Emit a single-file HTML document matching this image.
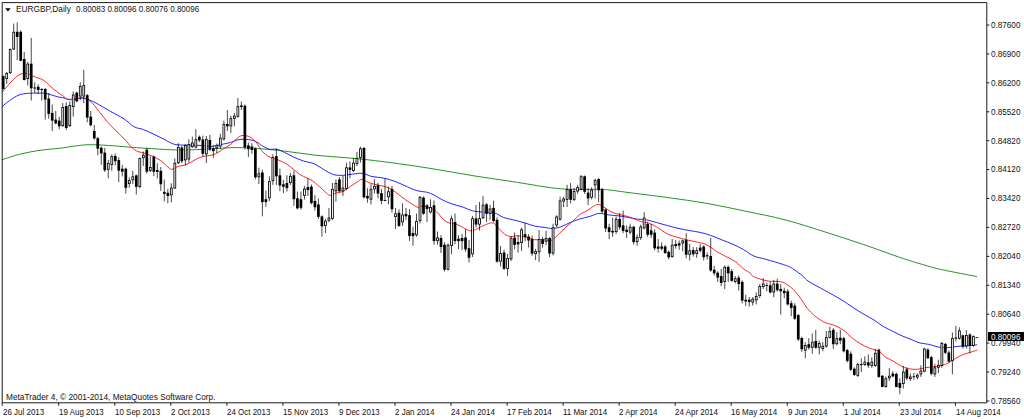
<!DOCTYPE html><html><head><meta charset="utf-8"><title>EURGBP,Daily</title><style>
html,body{margin:0;padding:0;background:#fff;}
body{width:1024px;height:419px;position:relative;overflow:hidden;font-family:"Liberation Sans",sans-serif;color:#000;}
.t{position:absolute;white-space:nowrap;font-size:9.4px;line-height:10px;transform-origin:0 50%;transform:scaleX(0.852);color:#111;}
.p{left:991.2px;transform:scaleX(0.868);}
.d{top:406.6px;transform:scaleX(0.85);}
#cur{position:absolute;left:988px;top:332.2px;width:36px;height:8.6px;background:#000;}
#curt{color:#fff;top:331.6px;left:991.2px;transform:scaleX(0.868);}

</style></head><body>
<svg width="1024" height="419" viewBox="0 0 1024 419" style="position:absolute;left:0;top:0">
<rect x="0" y="0" width="1024" height="419" fill="#fff"/>
<g fill="none" stroke-linejoin="round" stroke-linecap="round">
<path d="M2.3 159.6 C5.2 158.7 13.4 155.8 19.5 154.3 C25.6 152.8 32.5 151.4 39.0 150.4 C45.5 149.4 52.1 149.2 58.6 148.4 C65.1 147.6 72.9 146.2 78.1 145.6 C83.3 145.0 84.6 144.7 89.8 144.7 C95.0 144.7 101.6 145.0 109.4 145.5 C117.2 146.0 128.9 147.1 136.7 147.7 C144.5 148.3 149.8 148.5 156.3 148.9 C162.8 149.3 168.5 149.8 175.8 149.9 C183.1 150.0 189.5 149.9 200.0 149.5 C210.5 149.1 226.0 147.5 239.0 147.6 C252.0 147.7 265.0 149.0 278.0 150.3 C291.0 151.6 304.0 154.0 317.0 155.4 C330.0 156.8 343.0 157.2 356.0 158.5 C369.0 159.8 382.0 161.4 395.0 163.2 C408.0 164.9 421.0 166.9 434.0 169.0 C447.0 171.1 459.9 173.6 473.0 175.7 C486.1 177.8 499.4 179.6 512.5 181.6 C525.6 183.6 541.2 186.5 551.6 187.8 C562.0 189.1 566.9 189.2 575.0 189.4 C583.1 189.7 593.8 189.2 600.0 189.3 C606.2 189.5 607.2 189.8 612.0 190.3 C616.8 190.9 619.7 191.4 629.0 192.6 C638.3 193.8 655.0 195.8 668.0 197.6 C681.0 199.4 694.0 201.1 707.0 203.4 C720.0 205.7 733.0 208.6 746.0 211.3 C759.0 214.0 772.0 216.4 785.0 219.8 C798.0 223.2 810.9 227.5 824.0 231.6 C837.1 235.7 850.3 240.1 863.4 244.5 C876.5 248.9 892.2 254.9 902.5 258.3 C912.8 261.8 918.5 263.3 925.0 265.2 C931.5 267.1 933.0 267.7 941.6 269.6 C950.2 271.5 970.9 275.4 976.7 276.5" stroke="#008000" stroke-width="0.9" opacity="0.95"/>
<path d="M2.3 106.4 C3.5 105.4 6.7 102.5 9.5 100.6 C12.3 98.7 15.8 96.2 19.0 95.0 C22.2 93.8 25.4 93.6 28.6 93.3 C31.8 93.0 35.1 93.2 38.0 93.2 C40.9 93.2 42.6 92.8 45.8 93.4 C49.0 94.0 54.3 95.9 57.3 96.7 C60.3 97.5 62.0 97.5 64.0 98.0 C66.0 98.5 67.1 99.3 69.6 99.4 C72.1 99.5 76.2 98.5 79.1 98.4 C81.9 98.3 83.5 98.0 86.7 99.0 C89.9 100.0 94.4 102.2 98.2 104.2 C102.0 106.2 105.4 108.5 109.7 110.9 C114.0 113.4 120.0 116.3 124.0 118.9 C128.1 121.5 130.8 124.9 134.0 126.7 C137.2 128.5 140.2 128.3 143.5 129.6 C146.8 130.9 150.6 132.7 154.0 134.3 C157.4 135.9 160.8 137.7 164.1 139.3 C167.4 140.9 170.5 143.1 173.7 144.1 C176.9 145.1 178.8 144.9 183.2 145.1 C187.6 145.3 195.3 145.2 200.0 145.4 C204.7 145.6 208.0 146.6 211.5 146.4 C215.0 146.2 217.8 145.2 221.0 144.5 C224.2 143.8 227.7 143.3 230.6 142.5 C233.5 141.7 235.6 140.2 238.2 139.7 C240.8 139.2 243.3 139.2 245.9 139.3 C248.5 139.5 251.3 139.9 253.5 140.6 C255.7 141.3 257.9 142.7 259.2 143.5 C260.5 144.3 259.9 144.4 261.5 145.3 C263.1 146.2 266.6 148.5 269.1 149.2 C271.6 149.8 274.1 148.7 276.7 149.2 C279.2 149.7 281.5 151.1 284.4 152.4 C287.3 153.7 290.7 155.8 293.9 157.2 C297.1 158.6 300.1 159.9 303.5 161.0 C306.9 162.1 311.1 162.4 314.5 163.9 C317.9 165.4 320.9 168.0 324.1 169.8 C327.3 171.6 330.4 173.7 333.6 174.6 C336.8 175.5 340.0 175.4 343.2 175.3 C346.4 175.2 349.5 174.4 352.7 174.1 C355.9 173.8 359.1 173.0 362.3 173.4 C365.5 173.8 368.4 175.7 372.0 176.5 C375.6 177.3 379.9 177.2 383.9 178.1 C387.9 179.0 391.8 180.2 395.8 181.7 C399.8 183.2 404.1 185.5 407.7 187.0 C411.3 188.5 414.1 189.9 417.3 190.8 C420.5 191.7 424.1 191.5 426.9 192.2 C429.7 192.9 431.7 193.8 434.1 195.0 C436.5 196.2 438.5 197.9 441.3 199.3 C444.1 200.7 447.2 202.3 450.8 203.6 C454.4 204.9 459.1 205.8 462.7 207.0 C466.3 208.2 469.1 210.0 472.3 210.8 C475.5 211.6 478.4 211.7 482.0 212.0 C485.6 212.3 490.3 211.8 493.9 212.7 C497.5 213.6 500.2 216.2 503.4 217.4 C506.6 218.6 509.4 218.9 513.0 219.8 C516.6 220.7 521.3 221.9 524.9 222.9 C528.5 223.9 531.3 225.4 534.5 226.1 C537.7 226.8 541.1 226.9 544.1 227.3 C547.1 227.7 549.6 228.6 552.4 228.5 C555.2 228.4 557.8 227.8 560.8 226.8 C563.8 225.8 567.1 223.8 570.3 222.5 C573.5 221.2 576.7 219.9 579.9 218.9 C583.1 217.9 586.3 217.4 589.5 216.5 C592.7 215.6 595.9 213.7 599.1 213.4 C602.3 213.1 605.4 214.5 608.6 214.9 C611.8 215.3 615.0 215.4 618.2 215.8 C621.4 216.2 624.5 216.7 627.7 217.3 C630.9 217.9 634.3 218.8 637.3 219.2 C640.3 219.6 642.5 219.1 645.7 219.7 C648.9 220.2 652.9 221.5 656.5 222.5 C660.1 223.5 663.6 224.5 667.2 225.5 C670.8 226.5 674.4 227.5 678.0 228.3 C681.6 229.1 684.9 229.7 688.7 230.4 C692.5 231.1 696.9 231.6 700.7 232.5 C704.5 233.4 707.9 234.4 711.5 235.7 C715.1 236.9 718.6 238.6 722.2 240.0 C725.8 241.4 729.4 242.7 733.0 244.3 C736.6 245.9 740.2 247.7 743.7 249.7 C747.2 251.7 750.3 254.5 754.0 256.1 C757.7 257.7 760.6 257.8 765.8 259.3 C771.0 260.8 780.8 263.6 785.3 265.2 C789.8 266.8 789.9 266.9 792.7 268.6 C795.5 270.4 799.6 273.5 802.3 275.7 C805.0 277.9 805.3 279.3 809.0 281.7 C812.7 284.1 818.9 287.1 824.4 290.2 C829.9 293.2 837.1 297.2 841.8 300.0 C846.5 302.8 848.8 304.8 852.5 307.2 C856.2 309.6 860.4 312.2 864.0 314.3 C867.6 316.4 870.7 317.9 874.0 320.0 C877.3 322.1 880.5 324.8 883.7 326.7 C886.9 328.6 890.0 329.9 893.2 331.5 C896.4 333.1 899.6 334.8 902.8 336.2 C906.0 337.6 909.5 338.8 912.3 339.9 C915.1 341.0 916.7 342.1 919.5 342.9 C922.3 343.6 925.9 343.7 929.1 344.4 C932.3 345.1 935.4 346.6 938.6 347.1 C941.8 347.7 945.0 347.8 948.2 347.7 C951.4 347.6 954.5 346.6 957.7 346.3 C960.9 346.0 964.1 346.1 967.3 345.8 C970.5 345.6 975.2 345.0 976.8 344.8" stroke="#0000ff" stroke-width="0.9" opacity="0.95"/>
<path d="M2.3 92.0 C3.1 91.1 5.5 88.3 7.0 86.6 C8.5 84.8 9.5 83.5 11.5 81.5 C13.5 79.5 16.6 76.1 19.1 74.8 C21.6 73.5 24.1 73.1 26.7 73.4 C29.2 73.7 31.5 75.5 34.4 76.7 C37.3 77.9 40.7 78.5 43.9 80.5 C47.1 82.5 50.1 86.3 53.5 89.0 C56.9 91.7 61.6 95.0 64.0 96.7 C66.3 98.4 65.7 99.0 67.6 99.4 C69.5 99.9 73.1 99.7 75.3 99.4 C77.5 99.1 79.1 97.6 81.0 97.5 C82.9 97.4 84.8 98.0 86.7 99.0 C88.6 100.0 90.3 100.9 92.5 103.2 C94.7 105.5 97.5 109.6 100.1 112.8 C102.6 116.0 105.3 119.5 107.8 122.3 C110.2 125.1 112.0 126.8 114.8 129.6 C117.6 132.4 121.5 136.1 124.4 139.1 C127.3 142.1 129.8 145.6 132.0 147.7 C134.2 149.8 135.6 150.6 137.8 151.5 C140.0 152.4 142.9 152.6 145.4 153.4 C147.9 154.2 150.1 155.3 152.6 156.5 C155.1 157.7 157.8 158.6 160.3 160.3 C162.9 162.1 166.0 165.5 167.9 167.0 C169.8 168.5 170.1 169.4 171.7 169.3 C173.3 169.2 174.9 167.4 177.5 166.6 C180.1 165.8 183.8 165.5 187.0 164.2 C190.2 162.9 193.7 160.3 196.6 159.0 C199.5 157.7 202.4 156.7 204.2 156.2 C206.0 155.7 205.8 156.3 207.6 155.9 C209.4 155.5 212.8 155.1 215.3 154.0 C217.9 152.9 220.4 150.8 222.9 149.2 C225.4 147.6 228.1 146.5 230.6 144.5 C233.1 142.5 236.1 138.9 238.2 137.4 C240.3 135.9 241.1 135.6 243.0 135.5 C244.9 135.4 247.6 135.8 249.7 136.8 C251.8 137.8 253.7 139.8 255.4 141.6 C257.1 143.4 258.8 146.2 259.8 147.7 C260.8 149.2 260.3 149.2 261.5 150.5 C262.7 151.8 265.3 154.4 267.2 155.7 C269.1 157.0 271.0 157.5 272.9 158.2 C274.8 158.9 276.5 159.1 278.7 160.1 C280.9 161.1 283.8 162.3 286.3 163.9 C288.8 165.5 291.7 167.8 293.9 169.6 C296.1 171.3 297.5 173.0 299.7 174.4 C301.9 175.8 305.2 177.2 307.3 178.2 C309.4 179.2 310.2 179.2 312.2 180.6 C314.2 182.0 316.9 184.4 319.3 186.5 C321.7 188.6 324.7 191.5 326.5 193.0 C328.3 194.5 328.5 195.4 330.1 195.4 C331.7 195.4 333.8 193.7 336.0 193.0 C338.2 192.3 340.8 192.4 343.2 191.3 C345.6 190.2 347.9 188.1 350.3 186.5 C352.7 184.9 355.5 183.0 357.5 181.8 C359.5 180.6 360.3 179.2 362.3 179.4 C364.3 179.6 366.7 181.9 369.5 182.9 C372.3 183.9 375.9 184.5 379.1 185.3 C382.3 186.1 385.8 186.5 388.6 187.7 C391.4 188.9 393.0 190.4 395.8 192.4 C398.6 194.4 402.5 197.6 405.3 199.6 C408.1 201.6 410.3 203.1 412.5 204.4 C414.7 205.7 416.9 207.2 418.5 207.5 C420.1 207.8 420.4 206.0 422.2 206.0 C424.0 206.0 426.9 206.8 429.3 207.7 C431.7 208.6 434.1 209.7 436.5 211.7 C438.9 213.7 441.4 217.7 443.6 219.6 C445.8 221.5 447.4 222.4 449.6 223.2 C451.8 224.0 454.4 223.6 456.8 224.4 C459.2 225.2 461.7 226.9 463.9 228.0 C466.1 229.1 468.1 230.5 469.9 230.8 C471.7 231.1 473.5 230.2 474.7 229.9 C475.9 229.6 475.6 229.5 477.2 228.7 C478.8 227.9 481.7 226.3 484.3 225.3 C486.9 224.3 490.3 222.4 492.7 222.9 C495.1 223.4 496.6 226.3 498.6 228.2 C500.6 230.1 502.6 232.8 504.6 234.2 C506.6 235.6 508.4 236.2 510.6 236.5 C512.8 236.8 514.9 235.7 517.7 235.8 C520.5 235.9 524.5 236.7 527.3 237.3 C530.1 238.0 531.7 239.3 534.5 239.7 C537.3 240.1 541.3 239.6 544.1 239.7 C546.9 239.8 548.9 241.3 551.3 240.4 C553.7 239.5 556.0 236.6 558.4 234.4 C560.8 232.2 563.2 229.5 565.6 227.3 C568.0 225.1 570.3 223.4 572.7 221.3 C575.1 219.2 577.5 216.3 579.9 214.5 C582.3 212.7 584.8 212.0 587.2 210.6 C589.6 209.2 592.3 206.8 594.3 205.8 C596.3 204.8 597.5 204.4 599.1 204.6 C600.7 204.8 601.9 205.8 603.9 207.0 C605.9 208.2 608.6 210.6 611.0 211.8 C613.4 213.0 615.4 213.4 618.2 214.2 C621.0 215.0 624.5 215.5 627.7 216.5 C630.9 217.5 635.0 219.2 637.3 220.1 C639.6 221.0 639.6 221.3 641.4 221.8 C643.2 222.3 645.4 222.1 647.9 222.9 C650.4 223.7 653.3 225.0 656.5 226.8 C659.7 228.6 663.6 231.9 667.2 233.7 C670.8 235.5 674.4 236.4 678.0 237.5 C681.6 238.6 684.9 239.4 688.7 240.3 C692.5 241.2 697.8 242.1 700.7 242.8 C703.6 243.5 704.2 243.8 706.0 244.6 C707.8 245.4 710.0 246.8 711.5 247.8 C713.0 248.8 713.9 249.8 715.0 250.6 C716.1 251.3 716.0 251.3 717.9 252.3 C719.8 253.3 723.6 255.3 726.5 256.8 C729.4 258.3 732.2 259.5 735.1 261.5 C738.0 263.5 741.2 267.1 743.7 269.0 C746.2 270.9 748.7 271.9 750.1 273.0 C751.5 274.1 750.7 274.7 752.2 275.7 C753.7 276.7 756.5 277.9 759.3 278.8 C762.1 279.7 765.3 280.7 768.9 281.2 C772.5 281.7 777.6 281.0 780.8 281.7 C784.0 282.4 785.6 283.7 788.0 285.3 C790.4 286.9 792.7 288.7 795.1 291.3 C797.5 293.9 800.3 298.0 802.3 300.8 C804.3 303.6 805.2 305.9 807.2 308.4 C809.2 310.8 811.5 313.2 814.3 315.5 C817.1 317.8 820.7 320.4 823.9 322.0 C827.1 323.6 830.2 323.8 833.4 325.1 C836.6 326.4 839.8 327.6 843.0 329.8 C846.2 332.0 849.5 335.9 852.5 338.2 C855.5 340.5 858.1 342.3 860.7 343.9 C863.4 345.5 865.9 346.6 868.4 347.7 C870.9 348.8 873.9 349.4 876.0 350.2 C878.1 351.0 879.2 351.3 880.8 352.5 C882.4 353.7 883.5 355.9 885.6 357.3 C887.7 358.7 890.7 359.7 893.2 361.1 C895.8 362.5 898.4 364.6 900.9 365.9 C903.4 367.2 905.7 368.1 908.5 368.7 C911.3 369.3 914.8 369.5 917.6 369.3 C920.4 369.1 922.8 368.1 925.3 367.7 C927.8 367.3 930.4 367.1 932.9 366.8 C935.4 366.5 938.0 366.4 940.5 365.8 C943.0 365.2 945.7 364.3 948.2 363.0 C950.8 361.7 953.2 359.6 955.8 358.2 C958.3 356.8 961.0 355.4 963.5 354.4 C966.0 353.4 968.9 352.8 971.1 352.1 C973.3 351.4 975.8 350.5 976.8 350.2" stroke="#ff0000" stroke-width="0.9" opacity="0.95"/>
</g>
<path d="M3.20 75.5V89.5M6.70 72.0V84.0M10.21 48.4V74.0M13.71 23.6V50.0M17.21 22.3V60.0M20.71 30.3V61.2M24.21 52.0V80.5M27.72 62.0V85.6M31.22 37.9V100.5M34.72 82.4V92.9M38.23 84.3V93.9M41.73 88.1V100.5M45.23 88.0V119.6M48.73 92.9V118.7M52.23 104.4V131.0M55.74 111.0V124.4M59.24 116.8V129.2M62.74 103.0V127.0M66.25 102.3V130.0M69.75 101.3V127.0M73.25 91.4V116.6M76.75 91.7V102.3M80.25 82.2V100.3M83.76 69.8V103.2M87.26 94.0V122.3M90.76 110.9V126.5M94.27 125.0V139.5M97.77 137.0V155.3M101.27 146.5V164.9M104.77 148.0V172.0M108.28 160.1V178.3M111.78 154.4V170.6M115.28 153.4V165.3M118.78 157.3V182.1M122.28 164.9V176.4M125.79 167.7V193.6M129.29 177.3V187.8M132.79 170.6V184.0M136.29 174.5V194.5M139.80 157.5V188.4M143.30 151.5V165.9M146.80 147.7V173.5M150.30 156.4V172.0M153.81 155.5V176.2M157.31 163.2V178.5M160.81 167.0V190.9M164.31 179.5V201.4M167.82 189.0V203.3M171.32 183.3V202.4M174.82 158.4V189.0M178.32 143.2V164.2M181.83 146.0V163.2M185.33 144.1V165.5M188.83 139.3V162.3M192.33 136.5V148.0M195.84 129.2V148.3M199.34 135.5V142.2M202.84 135.7V156.5M206.34 136.0V163.0M209.85 134.9V151.1M213.35 145.4V157.8M216.85 143.5V153.0M220.35 133.9V149.2M223.86 120.6V140.6M227.36 110.0V131.0M230.86 115.8V133.0M234.36 112.9V126.3M237.87 98.0V117.7M241.37 101.5V110.0M244.87 104.5V149.6M248.37 142.5V156.9M251.88 143.2V153.7M255.38 147.5V179.2M258.88 167.7V183.9M262.38 169.6V216.4M265.89 190.6V206.9M269.39 176.3V201.1M272.89 154.3V184.9M276.39 148.6V184.9M279.90 168.7V191.2M283.40 180.1V193.1M286.90 175.3V191.6M290.40 172.9V184.9M293.91 170.6V205.9M297.41 191.6V209.2M300.91 191.6V209.7M304.41 185.9V199.6M307.92 178.2V196.0M311.42 184.5V204.4M314.92 194.9V210.4M318.43 198.5V218.8M321.93 215.4V236.7M325.43 218.8V233.0M328.93 208.0V222.3M332.44 183.0V220.0M335.94 179.4V201.6M339.44 177.0V192.5M342.94 175.8V196.1M346.44 162.7V190.1M349.95 161.5V178.2M353.45 157.9V172.2M356.95 151.9V166.3M360.45 146.7V162.7M363.96 147.0V198.5M367.46 188.3V202.6M370.96 184.1V204.4M374.46 179.3V193.6M377.97 182.9V198.4M381.47 188.9V204.4M384.97 178.7V201.2M388.47 186.5V204.4M391.98 186.0V212.7M395.48 208.0V229.0M398.98 209.2V227.1M402.48 203.2V225.9M405.99 208.0V219.9M409.49 209.2V240.9M412.99 226.6V245.7M416.50 213.7V236.6M420.00 196.0V223.4M423.50 196.5V214.8M427.00 204.1V222.0M430.50 199.3V213.6M434.01 200.5V244.7M437.51 231.5V244.7M441.01 235.1V253.0M444.51 242.3V271.4M448.02 243.5V270.5M451.52 215.5V254.2M455.02 213.6V244.2M458.52 235.1V249.0M462.03 233.9V249.9M465.53 229.2V251.8M469.03 239.9V262.6M472.53 215.9V257.0M476.04 205.0V227.5M479.54 201.9V230.6M483.04 196.0V219.0M486.54 203.1V222.2M490.05 204.8V219.8M493.55 200.7V222.2M497.05 217.4V262.8M500.56 246.1V266.4M504.06 249.7V270.0M507.56 254.0V275.9M511.06 236.5V261.1M514.57 232.5V249.2M518.07 235.3V252.5M521.57 227.7V250.9M525.07 222.9V241.3M528.58 234.1V247.5M532.08 235.6V255.9M535.58 248.8V260.2M539.08 230.1V261.9M542.59 236.8V247.6M546.09 230.9V245.2M549.59 236.8V257.1M553.09 223.7V255.4M556.60 215.3V227.3M560.10 196.7V220.6M563.60 196.7V207.0M567.10 184.8V207.0M570.61 183.1V203.4M574.11 187.9V201.0M577.61 184.8V193.9M581.11 175.0V190.5M584.62 175.5V193.9M588.12 188.2V205.2M591.62 187.3V199.4M595.12 178.4V198.6M598.62 178.0V202.2M602.13 187.9V213.2M605.63 208.4V232.0M609.13 223.7V239.2M612.63 217.7V236.8M616.14 216.5V234.0M619.64 213.0V229.7M623.14 210.6V233.2M626.64 225.4V238.0M630.15 223.7V234.4M633.65 225.8V244.5M637.15 234.5V245.7M640.66 224.8V240.0M644.16 212.2V229.4M647.66 221.8V236.9M651.16 224.0V238.0M654.67 229.4V250.4M658.17 239.0V252.6M661.67 242.3V250.4M665.17 244.8V254.1M668.68 250.4V259.4M672.18 239.0V257.7M675.68 240.1V248.7M679.18 240.5V249.8M682.69 239.7V251.3M686.19 233.2V258.4M689.69 244.0V260.5M693.19 247.0V256.6M696.70 247.2V257.8M700.20 243.9V252.5M703.70 245.4V260.4M707.20 252.4V259.6M710.71 237.9V271.8M714.21 265.8V275.5M717.71 271.2V281.9M721.21 269.0V286.2M724.72 265.4V289.0M728.22 265.4V281.9M731.72 269.0V281.9M735.22 276.1V283.4M738.73 275.5V290.5M742.23 280.4V303.4M745.73 294.8V306.0M749.23 297.0V306.7M752.74 297.0V305.5M756.24 292.4V304.4M759.74 284.1V297.9M763.24 278.1V288.9M766.75 282.9V291.3M770.25 281.7V293.6M773.75 279.8V297.2M777.25 278.8V291.7M780.75 284.1V314.6M784.26 287.7V298.4M787.76 288.9V305.6M791.26 300.8V316.3M794.76 303.2V319.9M798.27 313.9V340.9M801.77 336.6V352.0M805.27 342.2V358.3M808.77 338.2V349.6M812.28 333.4V353.7M815.78 329.8V348.9M819.28 340.6V354.4M822.79 341.8V351.3M826.29 331.0V347.7M829.79 326.7V338.5M833.29 328.2V348.9M836.80 332.2V345.3M840.30 329.8V344.2M843.80 337.0V352.5M847.30 349.0V362.5M850.81 351.3V371.1M854.31 367.3V375.9M857.81 362.8V376.9M861.31 358.3V372.0M864.82 356.3V365.9M868.32 354.4V367.8M871.82 357.3V367.8M875.32 348.7V366.8M878.83 348.7V377.7M882.33 375.0V387.3M885.83 376.4V387.8M889.33 368.1V381.1M892.84 371.2V377.3M896.34 372.5V387.3M899.84 378.3V394.1M903.34 365.9V388.4M906.85 367.4V380.2M910.35 373.5V381.0M913.85 373.0V379.6M917.35 373.3V379.2M920.86 365.4V376.9M924.36 347.7V372.5M927.86 348.3V359.1M931.36 355.9V375.4M934.87 363.9V376.9M938.37 359.7V373.1M941.87 342.0V367.7M945.37 342.9V354.0M948.88 350.5V362.4M952.38 332.4V374.4M955.88 325.9V341.5M959.38 327.3V339.5M962.88 334.6V348.6M966.39 330.2V348.6M969.89 333.5V353.3M973.39 335.3V346.7" stroke="#000" stroke-width="0.9" fill="none" opacity="0.8"/>
<rect x="1.85" y="76.0" width="2.70" height="13.0" fill="#000"/>
<rect x="15.86" y="31.8" width="2.70" height="5.2" fill="#000"/>
<rect x="19.36" y="31.8" width="2.70" height="29.0" fill="#000"/>
<rect x="22.86" y="59.0" width="2.70" height="21.0" fill="#000"/>
<rect x="29.87" y="63.7" width="2.70" height="24.6" fill="#000"/>
<rect x="33.37" y="87.5" width="2.70" height="1.0" fill="#000"/>
<rect x="36.88" y="86.8" width="2.70" height="3.2" fill="#000"/>
<rect x="40.38" y="89.0" width="2.70" height="1.0" fill="#000"/>
<rect x="43.88" y="89.0" width="2.70" height="10.6" fill="#000"/>
<rect x="47.38" y="98.6" width="2.70" height="15.3" fill="#000"/>
<rect x="50.88" y="112.9" width="2.70" height="7.7" fill="#000"/>
<rect x="54.39" y="119.6" width="2.70" height="3.8" fill="#000"/>
<rect x="57.89" y="120.6" width="2.70" height="5.7" fill="#000"/>
<rect x="64.90" y="106.0" width="2.70" height="22.0" fill="#000"/>
<rect x="75.40" y="92.7" width="2.70" height="8.6" fill="#000"/>
<rect x="85.91" y="95.2" width="2.70" height="22.3" fill="#000"/>
<rect x="89.41" y="116.6" width="2.70" height="8.6" fill="#000"/>
<rect x="92.92" y="131.0" width="2.70" height="7.4" fill="#000"/>
<rect x="96.42" y="138.2" width="2.70" height="10.5" fill="#000"/>
<rect x="99.92" y="147.7" width="2.70" height="5.7" fill="#000"/>
<rect x="103.42" y="152.6" width="2.70" height="17.6" fill="#000"/>
<rect x="113.93" y="156.0" width="2.70" height="5.2" fill="#000"/>
<rect x="117.43" y="160.1" width="2.70" height="10.5" fill="#000"/>
<rect x="120.94" y="168.7" width="2.70" height="2.9" fill="#000"/>
<rect x="124.44" y="168.7" width="2.70" height="19.1" fill="#000"/>
<rect x="134.94" y="175.4" width="2.70" height="11.5" fill="#000"/>
<rect x="145.45" y="149.7" width="2.70" height="22.0" fill="#000"/>
<rect x="152.46" y="156.5" width="2.70" height="15.3" fill="#000"/>
<rect x="155.96" y="170.0" width="2.70" height="1.8" fill="#000"/>
<rect x="159.46" y="170.9" width="2.70" height="13.3" fill="#000"/>
<rect x="162.97" y="191.9" width="2.70" height="1.9" fill="#000"/>
<rect x="166.47" y="192.8" width="2.70" height="3.2" fill="#000"/>
<rect x="180.48" y="147.5" width="2.70" height="13.8" fill="#000"/>
<rect x="197.99" y="136.8" width="2.70" height="3.5" fill="#000"/>
<rect x="201.49" y="139.5" width="2.70" height="14.3" fill="#000"/>
<rect x="208.50" y="140.0" width="2.70" height="9.6" fill="#000"/>
<rect x="212.00" y="148.3" width="2.70" height="2.8" fill="#000"/>
<rect x="226.01" y="124.0" width="2.70" height="2.3" fill="#000"/>
<rect x="240.02" y="105.5" width="2.70" height="1.5" fill="#000"/>
<rect x="243.52" y="105.7" width="2.70" height="41.6" fill="#000"/>
<rect x="247.02" y="145.4" width="2.70" height="3.8" fill="#000"/>
<rect x="250.53" y="146.5" width="2.70" height="3.5" fill="#000"/>
<rect x="254.03" y="148.5" width="2.70" height="28.8" fill="#000"/>
<rect x="261.03" y="172.5" width="2.70" height="29.6" fill="#000"/>
<rect x="264.54" y="199.2" width="2.70" height="2.9" fill="#000"/>
<rect x="275.04" y="156.2" width="2.70" height="20.1" fill="#000"/>
<rect x="278.55" y="175.3" width="2.70" height="10.2" fill="#000"/>
<rect x="282.05" y="184.3" width="2.70" height="2.5" fill="#000"/>
<rect x="285.55" y="183.0" width="2.70" height="5.1" fill="#000"/>
<rect x="292.56" y="175.3" width="2.70" height="23.9" fill="#000"/>
<rect x="296.06" y="198.3" width="2.70" height="10.1" fill="#000"/>
<rect x="299.56" y="199.2" width="2.70" height="8.6" fill="#000"/>
<rect x="306.57" y="187.0" width="2.70" height="3.0" fill="#000"/>
<rect x="310.07" y="186.6" width="2.70" height="16.5" fill="#000"/>
<rect x="313.57" y="200.9" width="2.70" height="6.4" fill="#000"/>
<rect x="317.07" y="204.4" width="2.70" height="12.4" fill="#000"/>
<rect x="320.58" y="216.4" width="2.70" height="10.0" fill="#000"/>
<rect x="338.09" y="179.4" width="2.70" height="11.9" fill="#000"/>
<rect x="348.60" y="167.4" width="2.70" height="2.4" fill="#000"/>
<rect x="362.61" y="147.9" width="2.70" height="49.4" fill="#000"/>
<rect x="366.11" y="196.0" width="2.70" height="2.4" fill="#000"/>
<rect x="376.62" y="185.3" width="2.70" height="8.3" fill="#000"/>
<rect x="380.12" y="193.2" width="2.70" height="7.6" fill="#000"/>
<rect x="383.62" y="200.0" width="2.70" height="0.9" fill="#000"/>
<rect x="390.63" y="188.9" width="2.70" height="20.3" fill="#000"/>
<rect x="397.63" y="212.7" width="2.70" height="13.2" fill="#000"/>
<rect x="404.64" y="213.9" width="2.70" height="2.4" fill="#000"/>
<rect x="408.14" y="215.1" width="2.70" height="21.0" fill="#000"/>
<rect x="411.64" y="233.0" width="2.70" height="3.1" fill="#000"/>
<rect x="422.15" y="197.6" width="2.70" height="16.1" fill="#000"/>
<rect x="425.65" y="205.3" width="2.70" height="3.6" fill="#000"/>
<rect x="432.66" y="205.3" width="2.70" height="35.8" fill="#000"/>
<rect x="439.66" y="238.0" width="2.70" height="9.0" fill="#000"/>
<rect x="443.16" y="244.7" width="2.70" height="25.0" fill="#000"/>
<rect x="453.67" y="222.0" width="2.70" height="19.1" fill="#000"/>
<rect x="457.17" y="238.7" width="2.70" height="2.4" fill="#000"/>
<rect x="460.68" y="238.0" width="2.70" height="3.1" fill="#000"/>
<rect x="464.18" y="237.5" width="2.70" height="11.9" fill="#000"/>
<rect x="467.68" y="248.2" width="2.70" height="9.6" fill="#000"/>
<rect x="474.69" y="218.3" width="2.70" height="6.2" fill="#000"/>
<rect x="485.19" y="204.3" width="2.70" height="9.6" fill="#000"/>
<rect x="492.20" y="207.9" width="2.70" height="13.1" fill="#000"/>
<rect x="495.70" y="219.8" width="2.70" height="41.8" fill="#000"/>
<rect x="502.71" y="252.5" width="2.70" height="16.3" fill="#000"/>
<rect x="513.22" y="237.7" width="2.70" height="7.2" fill="#000"/>
<rect x="516.72" y="242.0" width="2.70" height="2.4" fill="#000"/>
<rect x="523.72" y="234.2" width="2.70" height="3.1" fill="#000"/>
<rect x="527.23" y="236.6" width="2.70" height="3.9" fill="#000"/>
<rect x="530.73" y="239.0" width="2.70" height="14.6" fill="#000"/>
<rect x="541.24" y="239.2" width="2.70" height="4.8" fill="#000"/>
<rect x="548.24" y="238.0" width="2.70" height="15.5" fill="#000"/>
<rect x="569.25" y="189.1" width="2.70" height="10.7" fill="#000"/>
<rect x="583.26" y="176.3" width="2.70" height="15.5" fill="#000"/>
<rect x="586.77" y="192.7" width="2.70" height="5.8" fill="#000"/>
<rect x="597.27" y="179.0" width="2.70" height="11.3" fill="#000"/>
<rect x="600.78" y="189.1" width="2.70" height="22.5" fill="#000"/>
<rect x="604.28" y="209.4" width="2.70" height="19.1" fill="#000"/>
<rect x="607.78" y="227.3" width="2.70" height="4.7" fill="#000"/>
<rect x="611.28" y="230.9" width="2.70" height="1.6" fill="#000"/>
<rect x="618.29" y="218.9" width="2.70" height="8.4" fill="#000"/>
<rect x="621.79" y="225.4" width="2.70" height="5.5" fill="#000"/>
<rect x="625.29" y="229.7" width="2.70" height="2.3" fill="#000"/>
<rect x="632.30" y="226.8" width="2.70" height="15.3" fill="#000"/>
<rect x="646.31" y="224.0" width="2.70" height="10.7" fill="#000"/>
<rect x="649.81" y="230.4" width="2.70" height="4.3" fill="#000"/>
<rect x="653.32" y="232.6" width="2.70" height="15.7" fill="#000"/>
<rect x="656.82" y="246.5" width="2.70" height="2.2" fill="#000"/>
<rect x="660.32" y="246.5" width="2.70" height="2.2" fill="#000"/>
<rect x="663.82" y="246.5" width="2.70" height="6.5" fill="#000"/>
<rect x="667.33" y="251.9" width="2.70" height="5.4" fill="#000"/>
<rect x="674.33" y="244.0" width="2.70" height="2.1" fill="#000"/>
<rect x="677.83" y="243.3" width="2.70" height="2.2" fill="#000"/>
<rect x="684.84" y="240.1" width="2.70" height="14.6" fill="#000"/>
<rect x="691.84" y="250.0" width="2.70" height="4.2" fill="#000"/>
<rect x="698.85" y="247.6" width="2.70" height="3.2" fill="#000"/>
<rect x="702.35" y="246.5" width="2.70" height="10.7" fill="#000"/>
<rect x="705.85" y="255.2" width="2.70" height="1.2" fill="#000"/>
<rect x="709.36" y="256.1" width="2.70" height="14.4" fill="#000"/>
<rect x="712.86" y="269.7" width="2.70" height="3.6" fill="#000"/>
<rect x="716.36" y="272.7" width="2.70" height="4.9" fill="#000"/>
<rect x="719.86" y="276.1" width="2.70" height="6.9" fill="#000"/>
<rect x="726.87" y="266.9" width="2.70" height="6.4" fill="#000"/>
<rect x="730.37" y="271.2" width="2.70" height="9.6" fill="#000"/>
<rect x="737.38" y="277.6" width="2.70" height="6.5" fill="#000"/>
<rect x="740.88" y="281.9" width="2.70" height="18.7" fill="#000"/>
<rect x="744.38" y="299.7" width="2.70" height="1.8" fill="#000"/>
<rect x="747.88" y="299.7" width="2.70" height="2.3" fill="#000"/>
<rect x="765.39" y="285.0" width="2.70" height="1.0" fill="#000"/>
<rect x="768.90" y="285.3" width="2.70" height="7.1" fill="#000"/>
<rect x="775.90" y="283.6" width="2.70" height="6.5" fill="#000"/>
<rect x="779.40" y="288.9" width="2.70" height="2.4" fill="#000"/>
<rect x="782.91" y="290.8" width="2.70" height="2.4" fill="#000"/>
<rect x="786.41" y="291.3" width="2.70" height="13.1" fill="#000"/>
<rect x="789.91" y="303.2" width="2.70" height="4.8" fill="#000"/>
<rect x="793.41" y="305.6" width="2.70" height="13.1" fill="#000"/>
<rect x="796.92" y="315.1" width="2.70" height="24.4" fill="#000"/>
<rect x="800.42" y="338.0" width="2.70" height="11.3" fill="#000"/>
<rect x="807.42" y="344.2" width="2.70" height="3.5" fill="#000"/>
<rect x="814.43" y="341.0" width="2.70" height="6.7" fill="#000"/>
<rect x="831.94" y="329.8" width="2.70" height="14.4" fill="#000"/>
<rect x="838.95" y="337.7" width="2.70" height="2.9" fill="#000"/>
<rect x="842.45" y="338.2" width="2.70" height="13.1" fill="#000"/>
<rect x="845.95" y="350.1" width="2.70" height="10.8" fill="#000"/>
<rect x="849.46" y="353.7" width="2.70" height="16.0" fill="#000"/>
<rect x="852.96" y="368.7" width="2.70" height="6.3" fill="#000"/>
<rect x="859.96" y="364.0" width="2.70" height="1.0" fill="#000"/>
<rect x="866.97" y="362.4" width="2.70" height="3.1" fill="#000"/>
<rect x="877.48" y="349.6" width="2.70" height="27.3" fill="#000"/>
<rect x="880.98" y="375.8" width="2.70" height="11.1" fill="#000"/>
<rect x="891.49" y="373.5" width="2.70" height="2.9" fill="#000"/>
<rect x="894.99" y="373.9" width="2.70" height="13.0" fill="#000"/>
<rect x="898.49" y="383.0" width="2.70" height="4.8" fill="#000"/>
<rect x="905.50" y="369.3" width="2.70" height="9.0" fill="#000"/>
<rect x="912.50" y="376.3" width="2.70" height="0.9" fill="#000"/>
<rect x="926.51" y="349.6" width="2.70" height="8.6" fill="#000"/>
<rect x="930.01" y="357.2" width="2.70" height="16.6" fill="#000"/>
<rect x="944.02" y="343.9" width="2.70" height="8.9" fill="#000"/>
<rect x="947.52" y="352.5" width="2.70" height="9.1" fill="#000"/>
<rect x="954.53" y="337.5" width="2.70" height="1.1" fill="#000"/>
<rect x="961.53" y="335.3" width="2.70" height="11.3" fill="#000"/>
<rect x="968.54" y="334.4" width="2.70" height="11.6" fill="#000"/>
<rect x="5.35" y="73.0" width="2.70" height="6.0" fill="#000"/>
<rect x="6.20" y="73.8" width="1.00" height="4.4" fill="#fff"/>
<rect x="8.86" y="49.0" width="2.70" height="24.0" fill="#000"/>
<rect x="9.71" y="49.8" width="1.00" height="22.4" fill="#fff"/>
<rect x="12.36" y="31.8" width="2.70" height="17.6" fill="#000"/>
<rect x="13.21" y="32.6" width="1.00" height="16.0" fill="#fff"/>
<rect x="26.37" y="63.7" width="2.70" height="15.3" fill="#000"/>
<rect x="27.22" y="64.5" width="1.00" height="13.7" fill="#fff"/>
<rect x="61.39" y="107.0" width="2.70" height="19.0" fill="#000"/>
<rect x="62.24" y="107.8" width="1.00" height="17.4" fill="#fff"/>
<rect x="68.40" y="105.0" width="2.70" height="21.0" fill="#000"/>
<rect x="69.25" y="105.8" width="1.00" height="19.4" fill="#fff"/>
<rect x="71.90" y="94.6" width="2.70" height="12.4" fill="#000"/>
<rect x="72.75" y="95.4" width="1.00" height="10.8" fill="#fff"/>
<rect x="78.91" y="86.0" width="2.70" height="10.5" fill="#000"/>
<rect x="79.75" y="86.8" width="1.00" height="8.9" fill="#fff"/>
<rect x="82.41" y="85.0" width="2.70" height="11.5" fill="#000"/>
<rect x="83.26" y="85.8" width="1.00" height="9.9" fill="#fff"/>
<rect x="106.93" y="163.0" width="2.70" height="6.7" fill="#000"/>
<rect x="107.78" y="163.8" width="1.00" height="5.1" fill="#fff"/>
<rect x="110.43" y="156.3" width="2.70" height="8.6" fill="#000"/>
<rect x="111.28" y="157.1" width="1.00" height="7.0" fill="#fff"/>
<rect x="127.94" y="180.2" width="2.70" height="3.8" fill="#000"/>
<rect x="128.79" y="181.0" width="1.00" height="2.2" fill="#fff"/>
<rect x="131.44" y="176.4" width="2.70" height="3.8" fill="#000"/>
<rect x="132.29" y="177.2" width="1.00" height="2.2" fill="#fff"/>
<rect x="138.45" y="158.2" width="2.70" height="28.7" fill="#000"/>
<rect x="139.30" y="159.0" width="1.00" height="27.1" fill="#fff"/>
<rect x="141.95" y="154.8" width="2.70" height="3.4" fill="#000"/>
<rect x="142.80" y="155.6" width="1.00" height="1.8" fill="#fff"/>
<rect x="148.95" y="167.0" width="2.70" height="3.8" fill="#000"/>
<rect x="149.80" y="167.8" width="1.00" height="2.2" fill="#fff"/>
<rect x="169.97" y="187.7" width="2.70" height="7.6" fill="#000"/>
<rect x="170.82" y="188.5" width="1.00" height="6.0" fill="#fff"/>
<rect x="173.47" y="162.8" width="2.70" height="25.6" fill="#000"/>
<rect x="174.32" y="163.6" width="1.00" height="24.0" fill="#fff"/>
<rect x="176.97" y="147.0" width="2.70" height="16.2" fill="#000"/>
<rect x="177.82" y="147.8" width="1.00" height="14.6" fill="#fff"/>
<rect x="183.98" y="145.0" width="2.70" height="15.3" fill="#000"/>
<rect x="184.83" y="145.8" width="1.00" height="13.7" fill="#fff"/>
<rect x="187.48" y="144.1" width="2.70" height="15.3" fill="#000"/>
<rect x="188.33" y="144.9" width="1.00" height="13.7" fill="#fff"/>
<rect x="190.98" y="142.6" width="2.70" height="4.4" fill="#000"/>
<rect x="191.83" y="143.4" width="1.00" height="2.8" fill="#fff"/>
<rect x="194.49" y="139.3" width="2.70" height="8.2" fill="#000"/>
<rect x="195.34" y="140.1" width="1.00" height="6.6" fill="#fff"/>
<rect x="205.00" y="139.2" width="2.70" height="15.1" fill="#000"/>
<rect x="205.84" y="140.0" width="1.00" height="13.5" fill="#fff"/>
<rect x="215.50" y="145.0" width="2.70" height="3.3" fill="#000"/>
<rect x="216.35" y="145.8" width="1.00" height="1.7" fill="#fff"/>
<rect x="219.00" y="137.8" width="2.70" height="8.6" fill="#000"/>
<rect x="219.85" y="138.6" width="1.00" height="7.0" fill="#fff"/>
<rect x="222.51" y="124.0" width="2.70" height="15.3" fill="#000"/>
<rect x="223.36" y="124.8" width="1.00" height="13.7" fill="#fff"/>
<rect x="229.51" y="118.3" width="2.70" height="8.0" fill="#000"/>
<rect x="230.36" y="119.1" width="1.00" height="6.4" fill="#fff"/>
<rect x="233.01" y="115.8" width="2.70" height="2.9" fill="#000"/>
<rect x="233.86" y="116.6" width="1.00" height="1.3" fill="#fff"/>
<rect x="236.52" y="106.2" width="2.70" height="10.5" fill="#000"/>
<rect x="237.37" y="107.0" width="1.00" height="8.9" fill="#fff"/>
<rect x="257.53" y="173.4" width="2.70" height="3.9" fill="#000"/>
<rect x="258.38" y="174.2" width="1.00" height="2.3" fill="#fff"/>
<rect x="268.04" y="181.1" width="2.70" height="17.2" fill="#000"/>
<rect x="268.89" y="181.9" width="1.00" height="15.6" fill="#fff"/>
<rect x="271.54" y="157.2" width="2.70" height="23.9" fill="#000"/>
<rect x="272.39" y="158.0" width="1.00" height="22.3" fill="#fff"/>
<rect x="289.05" y="175.9" width="2.70" height="7.1" fill="#000"/>
<rect x="289.90" y="176.7" width="1.00" height="5.5" fill="#fff"/>
<rect x="303.06" y="188.7" width="2.70" height="7.1" fill="#000"/>
<rect x="303.91" y="189.5" width="1.00" height="5.5" fill="#fff"/>
<rect x="324.08" y="220.7" width="2.70" height="5.2" fill="#000"/>
<rect x="324.93" y="221.5" width="1.00" height="3.6" fill="#fff"/>
<rect x="327.58" y="217.6" width="2.70" height="3.1" fill="#000"/>
<rect x="328.43" y="218.4" width="1.00" height="1.5" fill="#fff"/>
<rect x="331.08" y="188.9" width="2.70" height="29.9" fill="#000"/>
<rect x="331.94" y="189.7" width="1.00" height="28.3" fill="#fff"/>
<rect x="334.59" y="183.0" width="2.70" height="8.3" fill="#000"/>
<rect x="335.44" y="183.8" width="1.00" height="6.7" fill="#fff"/>
<rect x="341.59" y="187.7" width="2.70" height="3.6" fill="#000"/>
<rect x="342.44" y="188.5" width="1.00" height="2.0" fill="#fff"/>
<rect x="345.09" y="167.4" width="2.70" height="21.5" fill="#000"/>
<rect x="345.94" y="168.2" width="1.00" height="19.9" fill="#fff"/>
<rect x="352.10" y="162.7" width="2.70" height="8.3" fill="#000"/>
<rect x="352.95" y="163.5" width="1.00" height="6.7" fill="#fff"/>
<rect x="355.60" y="157.9" width="2.70" height="6.0" fill="#000"/>
<rect x="356.45" y="158.7" width="1.00" height="4.4" fill="#fff"/>
<rect x="359.10" y="148.4" width="2.70" height="9.5" fill="#000"/>
<rect x="359.95" y="149.2" width="1.00" height="7.9" fill="#fff"/>
<rect x="369.61" y="188.9" width="2.70" height="10.7" fill="#000"/>
<rect x="370.46" y="189.7" width="1.00" height="9.1" fill="#fff"/>
<rect x="373.11" y="186.0" width="2.70" height="3.3" fill="#000"/>
<rect x="373.96" y="186.8" width="1.00" height="1.7" fill="#fff"/>
<rect x="387.12" y="191.3" width="2.70" height="5.9" fill="#000"/>
<rect x="387.97" y="192.1" width="1.00" height="4.3" fill="#fff"/>
<rect x="394.13" y="213.4" width="2.70" height="3.6" fill="#000"/>
<rect x="394.98" y="214.2" width="1.00" height="2.0" fill="#fff"/>
<rect x="401.13" y="214.6" width="2.70" height="7.7" fill="#000"/>
<rect x="401.98" y="215.4" width="1.00" height="6.1" fill="#fff"/>
<rect x="415.14" y="221.0" width="2.70" height="14.2" fill="#000"/>
<rect x="416.00" y="221.8" width="1.00" height="12.6" fill="#fff"/>
<rect x="418.65" y="197.0" width="2.70" height="24.0" fill="#000"/>
<rect x="419.50" y="197.8" width="1.00" height="22.4" fill="#fff"/>
<rect x="429.15" y="207.0" width="2.70" height="5.4" fill="#000"/>
<rect x="430.00" y="207.8" width="1.00" height="3.8" fill="#fff"/>
<rect x="436.16" y="237.5" width="2.70" height="3.6" fill="#000"/>
<rect x="437.01" y="238.3" width="1.00" height="2.0" fill="#fff"/>
<rect x="446.67" y="244.7" width="2.70" height="25.0" fill="#000"/>
<rect x="447.52" y="245.5" width="1.00" height="23.4" fill="#fff"/>
<rect x="450.17" y="218.4" width="2.70" height="27.5" fill="#000"/>
<rect x="451.02" y="219.2" width="1.00" height="25.9" fill="#fff"/>
<rect x="471.18" y="218.3" width="2.70" height="36.0" fill="#000"/>
<rect x="472.03" y="219.1" width="1.00" height="34.4" fill="#fff"/>
<rect x="478.19" y="218.2" width="2.70" height="6.4" fill="#000"/>
<rect x="479.04" y="219.0" width="1.00" height="4.8" fill="#fff"/>
<rect x="481.69" y="204.8" width="2.70" height="13.4" fill="#000"/>
<rect x="482.54" y="205.6" width="1.00" height="11.8" fill="#fff"/>
<rect x="488.70" y="208.6" width="2.70" height="5.3" fill="#000"/>
<rect x="489.55" y="209.4" width="1.00" height="3.7" fill="#fff"/>
<rect x="499.20" y="253.2" width="2.70" height="8.4" fill="#000"/>
<rect x="500.06" y="254.0" width="1.00" height="6.8" fill="#fff"/>
<rect x="506.21" y="258.0" width="2.70" height="10.8" fill="#000"/>
<rect x="507.06" y="258.8" width="1.00" height="9.2" fill="#fff"/>
<rect x="509.71" y="237.7" width="2.70" height="21.5" fill="#000"/>
<rect x="510.56" y="238.5" width="1.00" height="19.9" fill="#fff"/>
<rect x="520.22" y="229.4" width="2.70" height="13.6" fill="#000"/>
<rect x="521.07" y="230.2" width="1.00" height="12.0" fill="#fff"/>
<rect x="534.23" y="251.1" width="2.70" height="2.9" fill="#000"/>
<rect x="535.08" y="251.9" width="1.00" height="1.3" fill="#fff"/>
<rect x="537.73" y="239.2" width="2.70" height="13.1" fill="#000"/>
<rect x="538.58" y="240.0" width="1.00" height="11.5" fill="#fff"/>
<rect x="544.74" y="238.0" width="2.70" height="3.6" fill="#000"/>
<rect x="545.59" y="238.8" width="1.00" height="2.0" fill="#fff"/>
<rect x="551.74" y="227.3" width="2.70" height="26.2" fill="#000"/>
<rect x="552.59" y="228.1" width="1.00" height="24.6" fill="#fff"/>
<rect x="555.25" y="216.5" width="2.70" height="8.9" fill="#000"/>
<rect x="556.10" y="217.3" width="1.00" height="7.3" fill="#fff"/>
<rect x="558.75" y="200.5" width="2.70" height="19.1" fill="#000"/>
<rect x="559.60" y="201.3" width="1.00" height="17.5" fill="#fff"/>
<rect x="562.25" y="198.6" width="2.70" height="2.9" fill="#000"/>
<rect x="563.10" y="199.4" width="1.00" height="1.3" fill="#fff"/>
<rect x="565.75" y="189.1" width="2.70" height="10.7" fill="#000"/>
<rect x="566.60" y="189.9" width="1.00" height="9.1" fill="#fff"/>
<rect x="572.76" y="191.0" width="2.70" height="8.8" fill="#000"/>
<rect x="573.61" y="191.8" width="1.00" height="7.2" fill="#fff"/>
<rect x="576.26" y="187.2" width="2.70" height="4.3" fill="#000"/>
<rect x="577.11" y="188.0" width="1.00" height="2.7" fill="#fff"/>
<rect x="579.76" y="176.3" width="2.70" height="13.2" fill="#000"/>
<rect x="580.61" y="177.1" width="1.00" height="11.6" fill="#fff"/>
<rect x="590.27" y="189.8" width="2.70" height="7.8" fill="#000"/>
<rect x="591.12" y="190.6" width="1.00" height="6.2" fill="#fff"/>
<rect x="593.77" y="180.1" width="2.70" height="5.2" fill="#000"/>
<rect x="594.62" y="180.9" width="1.00" height="3.6" fill="#fff"/>
<rect x="614.79" y="218.9" width="2.70" height="13.1" fill="#000"/>
<rect x="615.64" y="219.7" width="1.00" height="11.5" fill="#fff"/>
<rect x="628.80" y="226.8" width="2.70" height="5.7" fill="#000"/>
<rect x="629.65" y="227.6" width="1.00" height="4.1" fill="#fff"/>
<rect x="635.80" y="237.2" width="2.70" height="4.8" fill="#000"/>
<rect x="636.65" y="238.0" width="1.00" height="3.2" fill="#fff"/>
<rect x="639.31" y="226.6" width="2.70" height="11.4" fill="#000"/>
<rect x="640.16" y="227.4" width="1.00" height="9.8" fill="#fff"/>
<rect x="642.81" y="217.6" width="2.70" height="10.7" fill="#000"/>
<rect x="643.66" y="218.4" width="1.00" height="9.1" fill="#fff"/>
<rect x="670.83" y="244.8" width="2.70" height="12.1" fill="#000"/>
<rect x="671.68" y="245.6" width="1.00" height="10.5" fill="#fff"/>
<rect x="681.34" y="240.5" width="2.70" height="2.8" fill="#000"/>
<rect x="682.19" y="241.3" width="1.00" height="1.2" fill="#fff"/>
<rect x="688.34" y="250.4" width="2.70" height="4.3" fill="#000"/>
<rect x="689.19" y="251.2" width="1.00" height="2.7" fill="#fff"/>
<rect x="695.35" y="250.3" width="2.70" height="3.7" fill="#000"/>
<rect x="696.20" y="251.1" width="1.00" height="2.1" fill="#fff"/>
<rect x="723.37" y="266.9" width="2.70" height="15.0" fill="#000"/>
<rect x="724.22" y="267.7" width="1.00" height="13.4" fill="#fff"/>
<rect x="733.87" y="278.3" width="2.70" height="3.6" fill="#000"/>
<rect x="734.72" y="279.1" width="1.00" height="2.0" fill="#fff"/>
<rect x="751.38" y="298.8" width="2.70" height="3.7" fill="#000"/>
<rect x="752.24" y="299.6" width="1.00" height="2.1" fill="#fff"/>
<rect x="754.89" y="296.0" width="2.70" height="4.3" fill="#000"/>
<rect x="755.74" y="296.8" width="1.00" height="2.7" fill="#fff"/>
<rect x="758.39" y="286.0" width="2.70" height="10.0" fill="#000"/>
<rect x="759.24" y="286.8" width="1.00" height="8.4" fill="#fff"/>
<rect x="761.89" y="283.6" width="2.70" height="3.4" fill="#000"/>
<rect x="762.74" y="284.4" width="1.00" height="1.8" fill="#fff"/>
<rect x="772.40" y="283.6" width="2.70" height="8.8" fill="#000"/>
<rect x="773.25" y="284.4" width="1.00" height="7.2" fill="#fff"/>
<rect x="803.92" y="345.0" width="2.70" height="5.5" fill="#000"/>
<rect x="804.77" y="345.8" width="1.00" height="3.9" fill="#fff"/>
<rect x="810.93" y="341.8" width="2.70" height="5.9" fill="#000"/>
<rect x="811.78" y="342.6" width="1.00" height="4.3" fill="#fff"/>
<rect x="817.93" y="343.0" width="2.70" height="4.7" fill="#000"/>
<rect x="818.78" y="343.8" width="1.00" height="3.1" fill="#fff"/>
<rect x="821.44" y="345.8" width="2.70" height="3.1" fill="#000"/>
<rect x="822.29" y="346.6" width="1.00" height="1.5" fill="#fff"/>
<rect x="824.94" y="337.0" width="2.70" height="9.5" fill="#000"/>
<rect x="825.79" y="337.8" width="1.00" height="7.9" fill="#fff"/>
<rect x="828.44" y="331.0" width="2.70" height="6.7" fill="#000"/>
<rect x="829.29" y="331.8" width="1.00" height="5.1" fill="#fff"/>
<rect x="835.45" y="338.2" width="2.70" height="6.0" fill="#000"/>
<rect x="836.30" y="339.0" width="1.00" height="4.4" fill="#fff"/>
<rect x="856.46" y="364.2" width="2.70" height="11.6" fill="#000"/>
<rect x="857.31" y="365.0" width="1.00" height="10.0" fill="#fff"/>
<rect x="863.47" y="361.7" width="2.70" height="3.2" fill="#000"/>
<rect x="864.32" y="362.5" width="1.00" height="1.6" fill="#fff"/>
<rect x="870.47" y="361.7" width="2.70" height="4.2" fill="#000"/>
<rect x="871.32" y="362.5" width="1.00" height="2.6" fill="#fff"/>
<rect x="873.97" y="352.9" width="2.70" height="13.0" fill="#000"/>
<rect x="874.82" y="353.7" width="1.00" height="11.4" fill="#fff"/>
<rect x="884.48" y="378.3" width="2.70" height="8.6" fill="#000"/>
<rect x="885.33" y="379.1" width="1.00" height="7.0" fill="#fff"/>
<rect x="887.98" y="375.8" width="2.70" height="2.5" fill="#000"/>
<rect x="888.83" y="376.6" width="1.00" height="0.9" fill="#fff"/>
<rect x="901.99" y="371.6" width="2.70" height="12.4" fill="#000"/>
<rect x="902.84" y="372.4" width="1.00" height="10.8" fill="#fff"/>
<rect x="909.00" y="376.6" width="2.70" height="2.4" fill="#000"/>
<rect x="909.85" y="377.4" width="1.00" height="0.8" fill="#fff"/>
<rect x="916.00" y="374.8" width="2.70" height="2.7" fill="#000"/>
<rect x="916.85" y="375.6" width="1.00" height="1.1" fill="#fff"/>
<rect x="919.50" y="370.6" width="2.70" height="3.8" fill="#000"/>
<rect x="920.36" y="371.4" width="1.00" height="2.2" fill="#fff"/>
<rect x="923.01" y="348.6" width="2.70" height="23.0" fill="#000"/>
<rect x="923.86" y="349.4" width="1.00" height="21.4" fill="#fff"/>
<rect x="933.51" y="367.4" width="2.70" height="7.0" fill="#000"/>
<rect x="934.37" y="368.2" width="1.00" height="5.4" fill="#fff"/>
<rect x="937.02" y="364.9" width="2.70" height="2.8" fill="#000"/>
<rect x="937.87" y="365.7" width="1.00" height="1.2" fill="#fff"/>
<rect x="940.52" y="342.9" width="2.70" height="22.9" fill="#000"/>
<rect x="941.37" y="343.7" width="1.00" height="21.3" fill="#fff"/>
<rect x="951.03" y="338.1" width="2.70" height="22.9" fill="#000"/>
<rect x="951.88" y="338.9" width="1.00" height="21.3" fill="#fff"/>
<rect x="958.03" y="330.5" width="2.70" height="8.2" fill="#000"/>
<rect x="958.88" y="331.3" width="1.00" height="6.6" fill="#fff"/>
<rect x="965.04" y="335.0" width="2.70" height="11.4" fill="#000"/>
<rect x="965.89" y="335.8" width="1.00" height="9.8" fill="#fff"/>
<rect x="972.04" y="336.2" width="2.70" height="9.6" fill="#000"/>
<rect x="972.89" y="337.0" width="1.00" height="8.0" fill="#fff"/>
<rect x="975.54" y="337.2" width="2.70" height="0.9" fill="#000"/>
<g stroke="#000" stroke-width="0.9" fill="none">
<path d="M2.2 2.6V405.8 M2.2 2.6H986.8 M986.8 2.6V402.8 M2.2 402.8H986.8"/>
<path d="M986.8 25.0H989.4"/>
<path d="M986.8 53.9H989.4"/>
<path d="M986.8 82.8H989.4"/>
<path d="M986.8 111.8H989.4"/>
<path d="M986.8 140.7H989.4"/>
<path d="M986.8 169.6H989.4"/>
<path d="M986.8 198.5H989.4"/>
<path d="M986.8 227.4H989.4"/>
<path d="M986.8 256.4H989.4"/>
<path d="M986.8 285.3H989.4"/>
<path d="M986.8 314.2H989.4"/>
<path d="M986.8 343.1H989.4"/>
<path d="M986.8 372.0H989.4"/>
<path d="M986.8 401.0H989.4"/>
<path d="M58.7 402.8V405.8"/>
<path d="M114.8 402.8V405.8"/>
<path d="M170.8 402.8V405.8"/>
<path d="M226.9 402.8V405.8"/>
<path d="M282.9 402.8V405.8"/>
<path d="M338.9 402.8V405.8"/>
<path d="M395.0 402.8V405.8"/>
<path d="M451.0 402.8V405.8"/>
<path d="M507.1 402.8V405.8"/>
<path d="M563.1 402.8V405.8"/>
<path d="M619.1 402.8V405.8"/>
<path d="M675.2 402.8V405.8"/>
<path d="M731.2 402.8V405.8"/>
<path d="M787.3 402.8V405.8"/>
<path d="M843.3 402.8V405.8"/>
<path d="M899.3 402.8V405.8"/>
<path d="M955.4 402.8V405.8"/>
</g>
</svg>
<div class="t p" style="top:19.8px">0.87600</div>
<div class="t p" style="top:48.7px">0.86900</div>
<div class="t p" style="top:77.6px">0.86200</div>
<div class="t p" style="top:106.6px">0.85520</div>
<div class="t p" style="top:135.5px">0.84820</div>
<div class="t p" style="top:164.4px">0.84120</div>
<div class="t p" style="top:193.3px">0.83420</div>
<div class="t p" style="top:222.2px">0.82720</div>
<div class="t p" style="top:251.2px">0.82040</div>
<div class="t p" style="top:280.1px">0.81340</div>
<div class="t p" style="top:309.0px">0.80640</div>
<div class="t p" style="top:337.9px">0.79940</div>
<div class="t p" style="top:366.8px">0.79240</div>
<div class="t p" style="top:395.8px">0.78560</div>
<div class="t d" style="left:2.9px">26 Jul 2013</div>
<div class="t d" style="left:58.9px">19 Aug 2013</div>
<div class="t d" style="left:115.0px">10 Sep 2013</div>
<div class="t d" style="left:171.0px">2 Oct 2013</div>
<div class="t d" style="left:227.1px">24 Oct 2013</div>
<div class="t d" style="left:283.1px">15 Nov 2013</div>
<div class="t d" style="left:339.1px">9 Dec 2013</div>
<div class="t d" style="left:395.2px">2 Jan 2014</div>
<div class="t d" style="left:451.2px">24 Jan 2014</div>
<div class="t d" style="left:507.3px">17 Feb 2014</div>
<div class="t d" style="left:563.3px">11 Mar 2014</div>
<div class="t d" style="left:619.3px">2 Apr 2014</div>
<div class="t d" style="left:675.4px">24 Apr 2014</div>
<div class="t d" style="left:731.4px">16 May 2014</div>
<div class="t d" style="left:787.5px">9 Jun 2014</div>
<div class="t d" style="left:843.5px">1 Jul 2014</div>
<div class="t d" style="left:899.5px">23 Jul 2014</div>
<div class="t d" style="left:955.6px">14 Aug 2014</div>
<div id="cur"></div><div class="t" id="curt">0.80096</div>
<div class="t" style="left:15.8px;top:4.3px;transform:scaleX(0.887)" id="title">EURGBP,Daily</div>
<div class="t" style="left:76.1px;top:4.3px;transform:scaleX(0.86)" id="title2">0.80083 0.80096 0.80076 0.80096</div>
<svg style="position:absolute;left:4.8px;top:7.9px" width="6" height="4" viewBox="0 0 6 4"><path d="M0.2 0.3H5.6L2.9 3.5Z" fill="#000"/></svg>
<div class="t" style="left:6.2px;top:392.2px;transform:scaleX(0.884)" id="copy">MetaTrader 4, © 2001-2014, MetaQuotes Software Corp.</div>
</body></html>
